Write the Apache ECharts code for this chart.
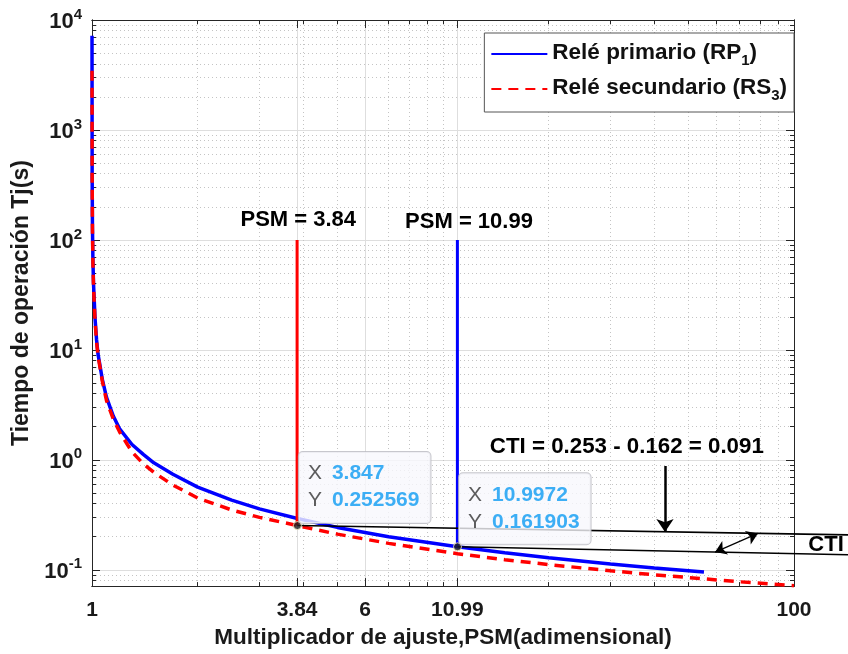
<!DOCTYPE html>
<html>
<head>
<meta charset="utf-8">
<script src="https://cdn.jsdelivr.net/npm/echarts@6/dist/echarts.min.js"></script>
<style>
  html, body { margin: 0; padding: 0; background: #fff; }
  #chart { width: 848px; height: 654px; }
</style>
</head>
<body>
<div id="chart"></div>
<script>
(function () {
  "use strict";

  var FONT = "'Liberation Sans', Arial, Helvetica, sans-serif";
  var AXIS_COLOR = "#262626";

  // ── Curve samples (PSM, seconds) ──
  var rpX = [1.000055, 1.001, 1.003, 1.006, 1.01, 1.02, 1.03, 1.04, 1.07, 1.1, 1.15, 1.2, 1.3, 1.4, 1.5, 1.7, 2, 2.5, 3, 3.847, 5, 7, 10.9972, 15, 20, 30, 40, 55.4];
  var rpY = [7200, 398, 132, 66, 40, 19.5, 12.5, 9.2, 5.4, 3.7, 2.5, 1.9, 1.38, 1.12, 0.94, 0.74, 0.565, 0.43, 0.358, 0.293, 0.243, 0.200, 0.161903, 0.1429, 0.1288, 0.1130, 0.1039, 0.0953];
  var rsX = [1.0001, 1.001, 1.003, 1.006, 1.01, 1.02, 1.03, 1.04, 1.07, 1.1, 1.15, 1.2, 1.3, 1.4, 1.5, 1.7, 2, 2.5, 3, 3.847, 5, 7, 10.9972, 15, 20, 30, 40, 55.4, 70, 100];
  var rsY = [3450, 370, 124, 62, 37.5, 18.5, 12, 8.9, 5.2, 3.45, 2.35, 1.78, 1.18, 0.92, 0.77, 0.59, 0.45, 0.35, 0.30, 0.252569, 0.211, 0.174, 0.140, 0.1237, 0.1115, 0.0980, 0.0901, 0.0828, 0.0778, 0.0718];

  // PSM markers and data tips
  var psmSecondary = 3.84;
  var psmPrimary = 10.99;
  var psmTop = 100;
  var tipSecondary = [3.847, 0.252569];
  var tipPrimary = [10.9972, 0.161903];

  // CTI annotation (data units)
  var ctiLineA = [tipSecondary, [142.5, 0.208]];
  var ctiLineB = [tipPrimary, [142.5, 0.1369]];
  var arrowDown = [[42.9, 0.88], [42.9, 0.221]];
  var arrowBoth = [[59.6, 0.1449], [78.9, 0.2143]];

  var labelAnchors = [
    { text: "PSM = 3.84", at: [3.87, 152], size: 22 },
    { text: "PSM = 10.99", at: [11.86, 146], size: 22 },
    { text: "CTI = 0.253 - 0.162 = 0.091", at: [33.4, 1.31], size: 22.3 },
    { text: "CTI", at: [123.4, 0.1687], size: 22 }
  ];

  // ── Ticks ──
  var xMajor = [1, 3.84, 6, 10.99, 100];
  var xMinor = [2, 3, 4, 5, 7, 8, 9, 10, 20, 30, 40, 50, 60, 70, 80, 90];
  var yMajor = [0.1, 1, 10, 100, 1000, 10000];
  var yMinor = [0.08, 0.09, 0.2, 0.3, 0.4, 0.5, 0.6, 0.7, 0.8, 0.9,
    2, 3, 4, 5, 6, 7, 8, 9, 20, 30, 40, 50, 60, 70, 80, 90,
    200, 300, 400, 500, 600, 700, 800, 900, 2000, 3000, 4000, 5000, 6000, 7000, 8000, 9000];

  var seriesNames = ["Relé primario (RP1)", "Relé secundario (RS3)"];
  var legendRich = ["{t|Relé primario (RP}{s|1}{t|)}", "{t|Relé secundario (RS}{s|3}{t|)}"];

  function zip(xs, ys) {
    var out = [];
    for (var i = 0; i < xs.length; i++) out.push([xs[i], ys[i]]);
    return out;
  }

  var majorGrid = { color: "#dedede", width: 1, type: "solid" };
  var minorGrid = { color: "#c4c4c4", width: 1, type: [1, 3] };

  function logAxis(dim, position, ticks, len, label, grid) {
    var ax = {
      type: "log",
      logBase: 10,
      position: position,
      axisLine: { show: true, onZero: false, lineStyle: { color: AXIS_COLOR, width: 1 } },
      axisTick: { show: true, inside: true, length: len, customValues: ticks, lineStyle: { color: AXIS_COLOR, width: 1 } },
      axisLabel: label || { show: false },
      splitLine: grid ? { show: true, lineStyle: grid } : { show: false },
      minorTick: { show: false },
      minorSplitLine: { show: false }
    };
    if (dim === "x") { ax.min = 1; ax.max = 100; } else { ax.min = 0.0711; ax.max = 10000; }
    return ax;
  }

  var xLabel = {
    show: true,
    customValues: xMajor,
    margin: 14,
    color: "#1a1a1a",
    fontFamily: FONT,
    fontWeight: "bold",
    fontSize: 21,
    formatter: function (v) { return String(v); }
  };

  var yLabel = {
    show: true,
    customValues: yMajor,
    margin: 10,
    formatter: function (v) {
      var e = Math.round(Math.log(v) / Math.LN10);
      return "{b|10}{s|" + e + "}";
    },
    rich: {
      b: { fontFamily: FONT, fontWeight: "bold", fontSize: 22, color: "#1a1a1a", lineHeight: 26, verticalAlign: "bottom" },
      s: { fontFamily: FONT, fontWeight: "bold", fontSize: 15, color: "#1a1a1a", lineHeight: 16, verticalAlign: "top" }
    }
  };

  var xAxes = [
    logAxis("x", "bottom", xMajor, 8, xLabel, majorGrid),
    logAxis("x", "bottom", xMinor, 4, null, minorGrid),
    logAxis("x", "top", xMajor, 8, null, null),
    logAxis("x", "top", xMinor, 4, null, null)
  ];
  xAxes[0].name = "Multiplicador de ajuste,PSM(adimensional)";
  xAxes[0].nameLocation = "middle";
  xAxes[0].nameGap = 36;
  xAxes[0].nameTextStyle = { fontFamily: FONT, fontWeight: "bold", fontSize: 22.5, color: "#1a1a1a" };

  var yAxes = [
    logAxis("y", "left", yMajor, 8, yLabel, majorGrid),
    logAxis("y", "left", yMinor, 4, null, minorGrid),
    logAxis("y", "right", yMajor, 8, null, null),
    logAxis("y", "right", yMinor, 4, null, null)
  ];
  yAxes[0].name = "Tiempo de operación Tj(s)";
  yAxes[0].nameLocation = "middle";
  yAxes[0].nameGap = 57;
  yAxes[0].nameTextStyle = { fontFamily: FONT, fontWeight: "bold", fontSize: 23, color: "#1a1a1a" };

  var chart = echarts.init(document.getElementById("chart"), null, { renderer: "canvas" });

  var option = {
    backgroundColor: "#ffffff",
    animation: false,
    grid: { left: 92, right: 54, top: 20, bottom: 67, containLabel: false },
    xAxis: xAxes,
    yAxis: yAxes,
    legend: {
      orient: "vertical",
      right: 54,
      top: 33,
      data: seriesNames,
      backgroundColor: "#ffffff",
      borderColor: "#555555",
      borderWidth: 1,
      borderRadius: 0,
      padding: [8, 7, 9, 6],
      itemWidth: 56,
      itemHeight: 14,
      itemGap: 8,
      z: 20,
      itemStyle: { opacity: 0 },
      formatter: function (name) { return legendRich[seriesNames.indexOf(name)]; },
      textStyle: {
        fontFamily: FONT,
        fontWeight: "bold",
        fontSize: 22.5,
        rich: {
          t: { fontFamily: FONT, fontWeight: "bold", fontSize: 22.5, color: "#111", lineHeight: 26, verticalAlign: "top" },
          s: { fontFamily: FONT, fontWeight: "bold", fontSize: 15, color: "#111", lineHeight: 15, padding: [12, 0, 0, 0], verticalAlign: "top" }
        }
      }
    },
    series: [
      {
        name: seriesNames[0],
        type: "line",
        symbol: "none",
        z: 3,
        lineStyle: { color: "#0000ff", width: 3.5 },
        itemStyle: { color: "#0000ff" },
        data: zip(rpX, rpY)
      },
      {
        name: seriesNames[1],
        type: "line",
        symbol: "none",
        z: 4,
        lineStyle: { color: "#ff0000", width: 3.5, type: [10, 7] },
        itemStyle: { color: "#ff0000" },
        data: zip(rsX, rsY)
      },
      {
        type: "line",
        symbol: "none",
        z: 4,
        lineStyle: { color: "#ff0000", width: 3 },
        data: [[psmSecondary, tipSecondary[1]], [psmSecondary, psmTop]]
      },
      {
        type: "line",
        symbol: "none",
        z: 4,
        lineStyle: { color: "#0000ff", width: 3 },
        data: [[psmPrimary, tipPrimary[1]], [psmPrimary, psmTop]]
      },
      {
        type: "lines",
        coordinateSystem: "cartesian2d",
        clip: false,
        z: 6,
        symbol: ["none", "none"],
        lineStyle: { color: "#000", width: 1.6, opacity: 1 },
        data: [{ coords: ctiLineA }, { coords: ctiLineB }]
      },
      {
        type: "lines",
        coordinateSystem: "cartesian2d",
        z: 6,
        symbol: ["none", "arrow"],
        symbolSize: 13,
        lineStyle: { color: "#000", width: 2.5, opacity: 1 },
        data: [{ coords: arrowDown }]
      },
      {
        type: "lines",
        coordinateSystem: "cartesian2d",
        z: 6,
        symbol: ["arrow", "arrow"],
        symbolSize: 11,
        lineStyle: { color: "#000", width: 1.2, opacity: 1 },
        data: [{ coords: arrowBoth }]
      },
      {
        type: "scatter",
        z: 10,
        symbol: "circle",
        symbolSize: 8,
        itemStyle: { color: "#1e1e1e", borderColor: "#fff6c8", borderWidth: 1 },
        label: {
          show: true,
          position: [6, 2],
          align: "left",
          verticalAlign: "bottom",
          backgroundColor: "#f8f8fc",
          borderColor: "#b9b9c0",
          borderWidth: 1,
          borderRadius: 4,
          padding: [8, 11, 9, 9],
          formatter: function (p) {
            return "{k|X}{v|" + p.value[0] + "}\n{k|Y}{v|" + p.value[1] + "}";
          },
          rich: {
            k: { fontFamily: FONT, fontSize: 21, color: "#333333", width: 24, lineHeight: 27 },
            v: { fontFamily: FONT, fontSize: 21, fontWeight: "bold", color: "#0d9bf2", lineHeight: 27 }
          }
        },
        data: [tipSecondary, tipPrimary]
      }
    ]
  };

  chart.setOption(option);

  // text annotations placed through the axes
  var texts = [];
  for (var i = 0; i < labelAnchors.length; i++) {
    var a = labelAnchors[i];
    var p = chart.convertToPixel({ seriesIndex: 0 }, a.at);
    texts.push({
      type: "text",
      x: p[0],
      y: p[1],
      z: 30,
      style: {
        text: a.text,
        fill: "#000",
        font: "bold " + a.size + "px " + FONT,
        textAlign: "center",
        textVerticalAlign: "middle"
      }
    });
  }
  chart.setOption({ graphic: texts });
})();
</script>
</body>
</html>
